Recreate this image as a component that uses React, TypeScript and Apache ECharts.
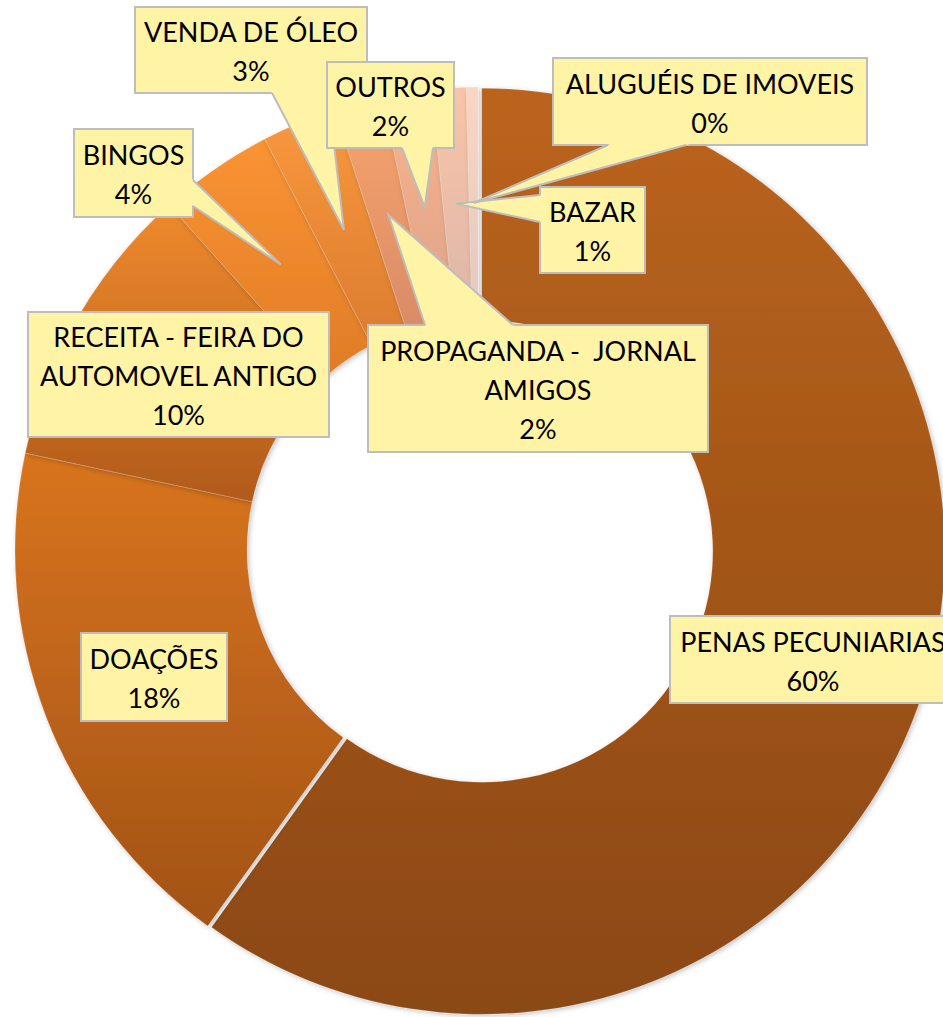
import React, { useEffect, useRef } from 'react';
import * as echarts from 'echarts';

// ---- data (clockwise from 12 o'clock) ----
const categories = [
  'PENAS PECUNIARIAS',
  'DOAÇÕES',
  'RECEITA - FEIRA DO\nAUTOMOVEL ANTIGO',
  'BINGOS',
  'VENDA DE ÓLEO',
  'PROPAGANDA -  JORNAL\nAMIGOS',
  'OUTROS',
  'BAZAR',
  'ALUGUÉIS DE IMOVEIS',
];
const values = [59.8, 18.4, 10.0, 4.0, 2.6, 1.7, 1.7, 1.2, 0.4];

// ---- styles ----
const topColors = ['#bb641d', '#d9741f', '#ef8a2d', '#fa9333', '#f9983d', '#f8a46e', '#f9b48e', '#fac4a8', '#fcd5c2'];
const bottomColors = ['#8b4813', '#a25316', '#b05a1a', '#df7c27', '#db7c30', '#d98b66', '#dca389', '#dcb7a9', '#e1c9c0'];

const CX = 478;
const CY = 550;
const R_IN = 231;
const R_OUT = 463;
const BOX_FILL = '#fff4a6';
const BOX_STROKE = '#bdbdbd';
const FONT = '27px Lato';
const ZTOP = 100;

// label box layout (same order as data); ptr = callout base on one side of the box
type Ptr = { side: 'top' | 'bottom' | 'left' | 'right'; a: number; b: number };
type Box = { x: number; y: number; w: number; h: number; ptr?: Ptr };
const boxes: Box[] = [
  { x: 670, y: 616, w: 286, h: 87 },
  { x: 81, y: 633, w: 146, h: 88 },
  { x: 28, y: 312, w: 301, h: 125 },
  { x: 74, y: 129, w: 119, h: 88, ptr: { side: 'right', a: 180, b: 206 } },
  { x: 135, y: 7, w: 232, h: 86, ptr: { side: 'bottom', a: 272, b: 328 } },
  { x: 368, y: 325, w: 340, h: 127, ptr: { side: 'top', a: 425, b: 513 } },
  { x: 327, y: 62, w: 127, h: 86, ptr: { side: 'bottom', a: 402, b: 433 } },
  { x: 540, y: 187, w: 105, h: 86, ptr: { side: 'left', a: 195, b: 222 } },
  { x: 553, y: 58, w: 314, h: 87, ptr: { side: 'bottom', a: 608, b: 686 } },
];

function grad(i: number) {
  return new echarts.graphic.LinearGradient(0, 0, 0, 1, [
    { offset: 0, color: topColors[i] },
    { offset: 1, color: bottomColors[i] },
  ]);
}

function buildGraphics() {
  const total = values.reduce((s, v) => s + v, 0);
  let cum = 0;
  const rm = (R_IN + R_OUT) / 2;
  const elements: any[] = [];
  values.forEach((v, i) => {
    const startDeg = (cum / total) * 360;
    cum += v;
    const mid = ((startDeg + (v / total) * 180) * Math.PI) / 180;
    const tip = [CX + rm * Math.sin(mid), CY - rm * Math.cos(mid)];
    const b = boxes[i];
    const zb = ZTOP + i * 4;
    elements.push({
      type: 'rect',
      z: zb,
      shape: { x: b.x, y: b.y, width: b.w, height: b.h },
      style: { fill: BOX_FILL, stroke: BOX_STROKE, lineWidth: 2 },
    });
    if (b.ptr) {
      const p = b.ptr;
      let p1: number[], p2: number[];
      if (p.side === 'bottom') { p1 = [p.a, b.y + b.h]; p2 = [p.b, b.y + b.h]; }
      else if (p.side === 'top') { p1 = [p.a, b.y]; p2 = [p.b, b.y]; }
      else if (p.side === 'left') { p1 = [b.x, p.a]; p2 = [b.x, p.b]; }
      else { p1 = [b.x + b.w, p.a]; p2 = [b.x + b.w, p.b]; }
      const vertical = p.side === 'top' || p.side === 'bottom';
      const ext = (q: number[]) => {
        const d = vertical ? Math.abs(q[1] - tip[1]) : Math.abs(q[0] - tip[0]);
        const k = 3 / d;
        return [q[0] + (q[0] - tip[0]) * k, q[1] + (q[1] - tip[1]) * k];
      };
      elements.push({
        type: 'polygon',
        z: zb + 1,
        shape: { points: [ext(p1), tip, ext(p2)] },
        style: { fill: BOX_FILL },
      });
      elements.push({
        type: 'polyline',
        z: zb + 2,
        shape: { points: [p1, tip, p2] },
        style: { stroke: BOX_STROKE, lineWidth: 2 },
      });
    }
    const pct = Math.round((v / total) * 100);
    elements.push({
      type: 'text',
      z: zb + 3,
      style: {
        text: categories[i] + '\n' + pct + '%',
        x: b.x + b.w / 2,
        y: b.y + b.h / 2 + 1,
        align: 'center',
        verticalAlign: 'middle',
        font: FONT,
        lineHeight: 39,
        fill: '#000000',
      },
    });
  });
  return elements;
}

export default function App() {
  const ref = useRef<HTMLDivElement>(null);
  useEffect(() => {
    if (!ref.current) return;
    const chart = echarts.init(ref.current, undefined, { renderer: 'svg' });
    chart.setOption({
      animation: false,
      backgroundColor: '#ffffff',
      series: [
        {
          type: 'pie',
          z: 2,
          center: [CX, CY],
          radius: [R_IN, R_OUT],
          startAngle: 90,
          clockwise: true,
          selectedMode: 'single',
          selectedOffset: 4,
          silent: true,
          label: { show: false },
          labelLine: { show: false },
          emphasis: { disabled: true },
          itemStyle: {
            borderColor: 'rgba(255,255,255,0.25)',
            borderWidth: 0.6,
            shadowBlur: 5,
            shadowColor: 'rgba(0,0,0,0.25)',
            shadowOffsetX: 1.5,
            shadowOffsetY: 1.5,
          },
          data: values.map((v, i) => ({
            name: categories[i],
            value: v,
            selected: i === 0,
            itemStyle: { color: grad(i) },
            select: { itemStyle: { color: grad(i), borderColor: 'rgba(255,255,255,0.25)', borderWidth: 0.6 } },
          })),
        },
      ],
      graphic: { elements: buildGraphics() },
    });
    return () => chart.dispose();
  }, []);
  return (
    <div
      ref={ref}
      style={{ position: 'absolute', left: 0, top: 0, width: 943, height: 1017 }}
    />
  );
}
